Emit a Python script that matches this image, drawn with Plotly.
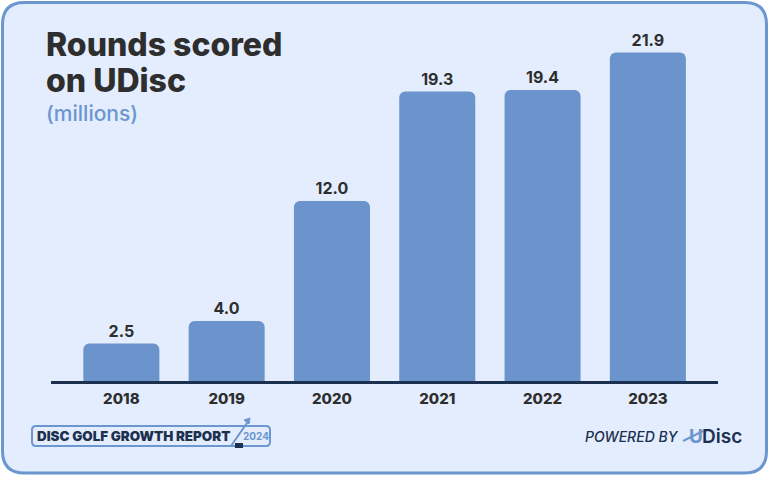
import plotly.graph_objects as go

years = ["2018", "2019", "2020", "2021", "2022", "2023"]
rounds_millions = [2.5, 4.0, 12.0, 19.3, 19.4, 21.9]

title_line1 = "Rounds scored"
title_line2 = "on UDisc"
subtitle = "(millions)"

W, H = 770, 477
X0, X1, Y0, Y1 = 51, 718, 21, 381  # plot area in pixels

CARD_BG = "#e3edfd"
CARD_BORDER = "#6b96cf"
BAR = "#6a94cb"
NAVY = "#1c3050"
DARK = "#2e2e2e"
FONT = "Inter"


def px(x):
    return (x - X0) / (X1 - X0)


def py(y):
    return (Y1 - y) / (Y1 - Y0)


def rrect_path(x0, y0, x1, y1, r):
    pts = [
        ("M", (x0 + r, y0)),
        ("L", (x1 - r, y0)),
        ("Q", (x1, y0), (x1, y0 + r)),
        ("L", (x1, y1 - r)),
        ("Q", (x1, y1), (x1 - r, y1)),
        ("L", (x0 + r, y1)),
        ("Q", (x0, y1), (x0, y1 - r)),
        ("L", (x0, y0 + r)),
        ("Q", (x0, y0), (x0 + r, y0)),
    ]
    s = ""
    for item in pts:
        cmd = item[0]
        coords = " ".join(f"{px(p[0]):.5f},{py(p[1]):.5f}" for p in item[1:])
        s += f"{cmd} {coords} "
    return s + "Z"


fig = go.Figure()
fig.add_trace(go.Bar(
    x=years,
    y=rounds_millions,
    marker=dict(color=BAR, cornerradius=6, line=dict(width=0)),
    texttemplate="%{y:.1f}",
    textposition="outside",
    textfont=dict(family=FONT, size=16, color=DARK, weight=700),
    cliponaxis=False,
    hoverinfo="skip",
))

shapes = [
    # card
    dict(type="path", xref="paper", yref="paper", path=rrect_path(2.5, 2.5, 766.5, 473, 22),
         fillcolor=CARD_BG, line=dict(color=CARD_BORDER, width=3), layer="below"),
    # report badge
    dict(type="path", xref="paper", yref="paper", path=rrect_path(32, 426, 270, 446, 4),
         fillcolor="rgba(0,0,0,0)", line=dict(color=CARD_BORDER, width=2), layer="above"),
    # slash / arrow in badge
    dict(type="line", xref="paper", yref="paper", x0=px(231), y0=py(446), x1=px(249), y1=py(420),
         line=dict(color=CARD_BORDER, width=2)),
    dict(type="path", xref="paper", yref="paper",
         path=f"M {px(244):.5f},{py(420):.5f} L {px(250):.5f},{py(418):.5f} L {px(249):.5f},{py(424):.5f} Z",
         fillcolor=CARD_BORDER, line=dict(color=CARD_BORDER, width=1)),
    dict(type="rect", xref="paper", yref="paper", x0=px(235), y0=py(448), x1=px(243), y1=py(443),
         fillcolor=NAVY, line=dict(width=0)),
    # UDisc logo stroke
    dict(type="line", xref="paper", yref="paper", x0=px(683), y0=py(441), x1=px(703), y1=py(431),
         line=dict(color=CARD_BORDER, width=2)),
]

annotations = [
    dict(text=title_line1, x=px(44), y=py(44), xref="paper", yref="paper", xanchor="left", yanchor="middle",
         showarrow=False, font=dict(family=FONT, size=32, color=DARK, weight=800)),
    dict(text=title_line2, x=px(44), y=py(80), xref="paper", yref="paper", xanchor="left", yanchor="middle",
         showarrow=False, font=dict(family=FONT, size=32, color=DARK, weight=800)),
    dict(text=subtitle, x=px(44), y=py(114), xref="paper", yref="paper", xanchor="left", yanchor="middle",
         showarrow=False, font=dict(family=FONT, size=21, color=CARD_BORDER, weight=500)),
    dict(text="DISC GOLF GROWTH REPORT", x=px(35), y=py(436), xref="paper", yref="paper", xanchor="left",
         yanchor="middle", showarrow=False, font=dict(family=FONT, size=13.4, color=NAVY, weight=900)),
    dict(text="2024", x=px(256), y=py(436), xref="paper", yref="paper", xanchor="center",
         yanchor="middle", showarrow=False, font=dict(family=FONT, size=10, color=CARD_BORDER, weight=700)),
    dict(text="<i>POWERED BY</i>", x=px(681), y=py(437), xref="paper", yref="paper", xanchor="right",
         yanchor="middle", showarrow=False, font=dict(family=FONT, size=14, color=NAVY, weight=500)),
    dict(text="U", x=px(687), y=py(437), xref="paper", yref="paper", xanchor="left",
         yanchor="middle", showarrow=False, font=dict(family=FONT, size=19, color=CARD_BORDER, weight=700)),
    dict(text="Disc", x=px(700), y=py(437), xref="paper", yref="paper", xanchor="left",
         yanchor="middle", showarrow=False, font=dict(family=FONT, size=19, color=NAVY, weight=600)),
]

fig.update_layout(
    width=W, height=H,
    margin=dict(l=X0, r=W - X1, t=Y0, b=H - Y1, pad=0),
    paper_bgcolor="white",
    plot_bgcolor="rgba(0,0,0,0)",
    bargap=0.278,
    showlegend=False,
    shapes=shapes,
    annotations=annotations,
    xaxis=dict(type="category", range=[-0.668, 5.666], showline=True, linecolor=NAVY, linewidth=3,
               ticks="", showgrid=False, zeroline=False, fixedrange=True, ticklabelstandoff=2,
               tickfont=dict(family=FONT, size=15, color=DARK, weight=800)),
    yaxis=dict(range=[0, 24], visible=False, showgrid=False, zeroline=False, fixedrange=True),
)

fig.write_html("out.html", config={"displayModeBar": False},
               post_script="document.body.style.margin='0';document.body.style.padding='0';")
